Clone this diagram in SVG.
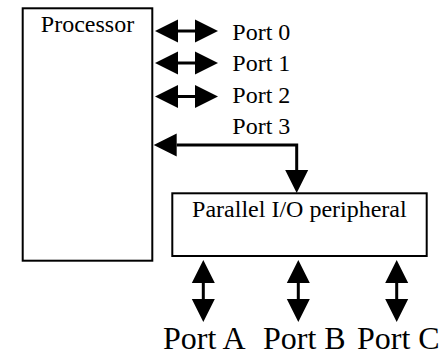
<svg xmlns="http://www.w3.org/2000/svg" width="446" height="355" viewBox="0 0 446 355">
<style>
.box{fill:#fff;stroke:#000;stroke-width:2}
.lbl{font-size:24px;fill:#000}
.big{font-size:32px;fill:#000}
.wire{fill:none;stroke:#000;stroke-width:3;marker-start:url(#ah);marker-end:url(#ah)}
</style>
<defs>
<marker id="ah" markerUnits="userSpaceOnUse" markerWidth="23" markerHeight="23" refX="0" refY="11.5" orient="auto-start-reverse" overflow="visible">
<path d="M0,0 L23,11.5 L0,23 z" fill="#000"/>
</marker>
</defs>
<rect width="446" height="355" fill="#fff"/>
<g font-family="Liberation Serif, Times New Roman, DejaVu Serif, serif">
<g id="processor">
<rect class="box" x="22.7" y="8.3" width="129.6" height="252.4"/>
<text class="lbl" x="87.5" y="32.3" text-anchor="middle">Processor</text>
</g>
<g id="pio">
<rect class="box" x="172.3" y="193.3" width="254.4" height="62.7"/>
<text class="lbl" x="299.4" y="216.8" text-anchor="middle">Parallel I/O peripheral</text>
</g>
<g id="port-labels">
<text class="lbl" x="232.3" y="39.7">Port 0</text>
<text class="lbl" x="232.3" y="71.2">Port 1</text>
<text class="lbl" x="232.3" y="102.7">Port 2</text>
<text class="lbl" x="232.3" y="134.3">Port 3</text>
<text class="big" x="163" y="349">Port A</text>
<text class="big" x="263" y="349">Port B</text>
<text class="big" x="357" y="349">Port C</text>
</g>
</g>
<g id="connectors">
<path class="wire" d="M178,31 H195"/>
<path class="wire" d="M178,63 H195"/>
<path class="wire" d="M178,96.5 H195"/>
<path class="wire" d="M176.7,145 H296.7 V170"/>
<path class="wire" d="M203.3,283 V299"/>
<path class="wire" d="M298.3,283 V299"/>
<path class="wire" d="M396.7,283 V299"/>
</g>
</svg>
